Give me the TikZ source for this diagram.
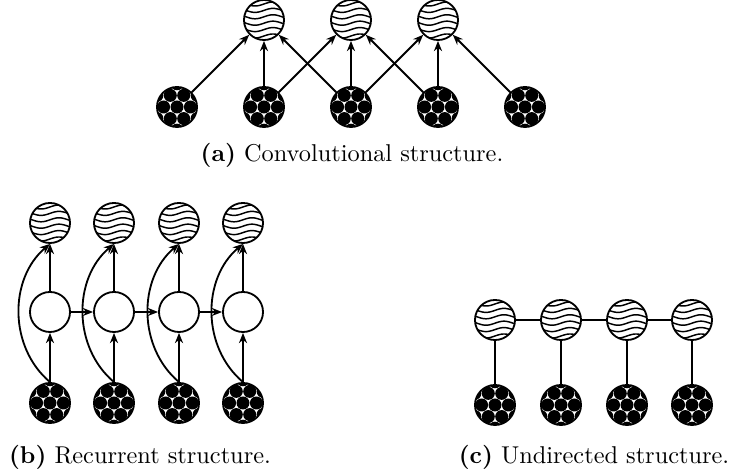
\documentclass[tikz,border=0pt]{standalone}
\usetikzlibrary{arrows.meta}
\begin{document}
\begin{tikzpicture}[x=0.411pt, y=-0.411pt, line width=0.75pt,
    >={Stealth[length=4.2pt,width=3.3pt]},
    unit/.style={circle, draw, minimum size=16.45pt, inner sep=0pt},
    wavy/.style={unit, path picture={
        \foreach \k in {-2.5,-1.5,...,2.5}
            \draw[line width=0.6pt, shift={(path picture bounding box.center)}]
                plot[domain=-22:22, samples=40, smooth] (\x, {\k*6.4 - 2*sin(\x*10)});
    }},
    solid/.style={unit, path picture={
        \foreach \r in {-2,...,2} \foreach \c in {-2,...,2}
            \fill[shift={(path picture bounding box.center)}]
                ({(\c + mod(abs(\r),2)/2)*13.4}, {\r*11.6}) circle[radius=6.5];
    }}]
    \useasboundingbox (0,0) rectangle (729,473);
    \foreach \i/\pos in {1/177,2/264,3/351,4/438,5/525}
        \node[solid] (a-x\i) at (\pos,107) {};
    \foreach \i/\pos in {1/264,2/351,3/438}
        \node[wavy] (a-y\i) at (\pos,20) {};
    \foreach \i in {1,2,3} \foreach \j in {0,1,2} {
        \pgfmathtruncatemacro\k{\i+\j}
        \draw[->] (a-x\k) -- (a-y\i);
    }
    \node (a-cap) at (352,155) {\textbf{(a)}~Convolutional structure.};

    \foreach \i/\pos in {1/50,2/114,3/179,4/243} {
        \node[solid] (b-x\i) at (\pos,403) {};
        \node[unit] (b-h\i) at (\pos,312) {};
        \node[wavy] (b-y\i) at (\pos,223) {};
        \draw[->] (b-x\i) -- (b-h\i);
        \draw[->] (b-h\i) -- (b-y\i);
        \draw[->] (b-x\i.north) to[bend left=50] (b-y\i.south);
    }
    \foreach \i/\j in {1/2,2/3,3/4}
        \draw[->] (b-h\i) -- (b-h\j);
    \node (b-cap) at (140,457) {\textbf{(b)}~Recurrent structure.};

    \foreach \i/\pos in {1/495,2/561,3/627,4/692} {
        \node[solid] (c-x\i) at (\pos,405) {};
        \node[wavy] (c-y\i) at (\pos,320) {};
        \draw (c-x\i) -- (c-y\i);
    }
    \foreach \i/\j in {1/2,2/3,3/4}
        \draw (c-y\i) -- (c-y\j);
    \node (c-cap) at (594,457) {\textbf{(c)}~Undirected structure.};
\end{tikzpicture}
\end{document}
